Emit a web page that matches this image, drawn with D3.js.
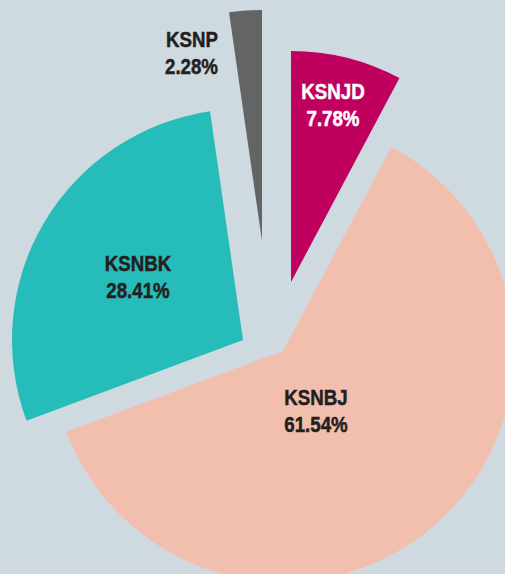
<!DOCTYPE html>
<html>
<head>
<meta charset="utf-8">
<script src="https://cdn.jsdelivr.net/npm/d3@7"></script>
<style>
  html, body { margin: 0; padding: 0; background: #cfdae0; }
  svg { display: block; }
</style>
</head>
<body>
<svg id="chart" width="505" height="574"></svg>
<script>
// data
const categories = ["KSNJD", "KSNBJ", "KSNBK", "KSNP"];
const shares = [7.78, 61.54, 28.41, 2.28];

// layout (slices are pulled apart by hand, not evenly)
const sliceColors = ["#bf005f", "#f2bead", "#26bcb9", "#636466"];
const labelColors = ["#ffffff", "#231f20", "#231f20", "#231f20"];
const sliceShift = [[8, -69], [0, 0], [-40, -11], [-21, -110]];
const labelPos = [[42, -177, "middle"], [33, 60, "middle"], [-105, -63, "middle"], [-44, -188, "end"]];

const svg = d3.select('#chart');
const width = +svg.attr('width');
const height = +svg.attr('height');
const cx = 283, cy = 351;
const radius = 231;

svg.append('rect')
  .attr('width', width)
  .attr('height', height)
  .attr('fill', '#cfdae0');

const pie = d3.pie().sort(null).value(d => d.value);
const arc = d3.arc().innerRadius(0).outerRadius(radius);

const rows = categories.map((name, i) => ({ name, value: shares[i], i }));
const arcs = pie(rows);

const g = svg.append('g').attr('transform', `translate(${cx},${cy})`);

const slice = g.selectAll('g.slice')
  .data(arcs)
  .join('g')
  .attr('class', 'slice')
  .attr('transform', d => `translate(${sliceShift[d.data.i][0]},${sliceShift[d.data.i][1]})`);

slice.append('path')
  .attr('d', arc)
  .attr('fill', d => sliceColors[d.data.i]);

// narrow bold look: Arial-like bold squeezed horizontally
const label = slice.append('text')
  .attr('transform', d => `translate(${labelPos[d.data.i][0]},${labelPos[d.data.i][1]}) scale(0.85,1)`)
  .attr('text-anchor', d => labelPos[d.data.i][2])
  .attr('fill', d => labelColors[d.data.i])
  .attr('stroke', d => labelColors[d.data.i])
  .attr('stroke-width', 0.5)
  .style('font-family', '"Liberation Sans", Arial, sans-serif')
  .style('font-weight', 'bold')
  .style('font-size', '22px');

label.append('tspan')
  .attr('x', 0)
  .attr('dy', -6)
  .text(d => d.data.name);

label.append('tspan')
  .attr('x', 0)
  .attr('dy', 27)
  .text(d => d.data.value.toFixed(2) + '%');
</script>
</body>
</html>
